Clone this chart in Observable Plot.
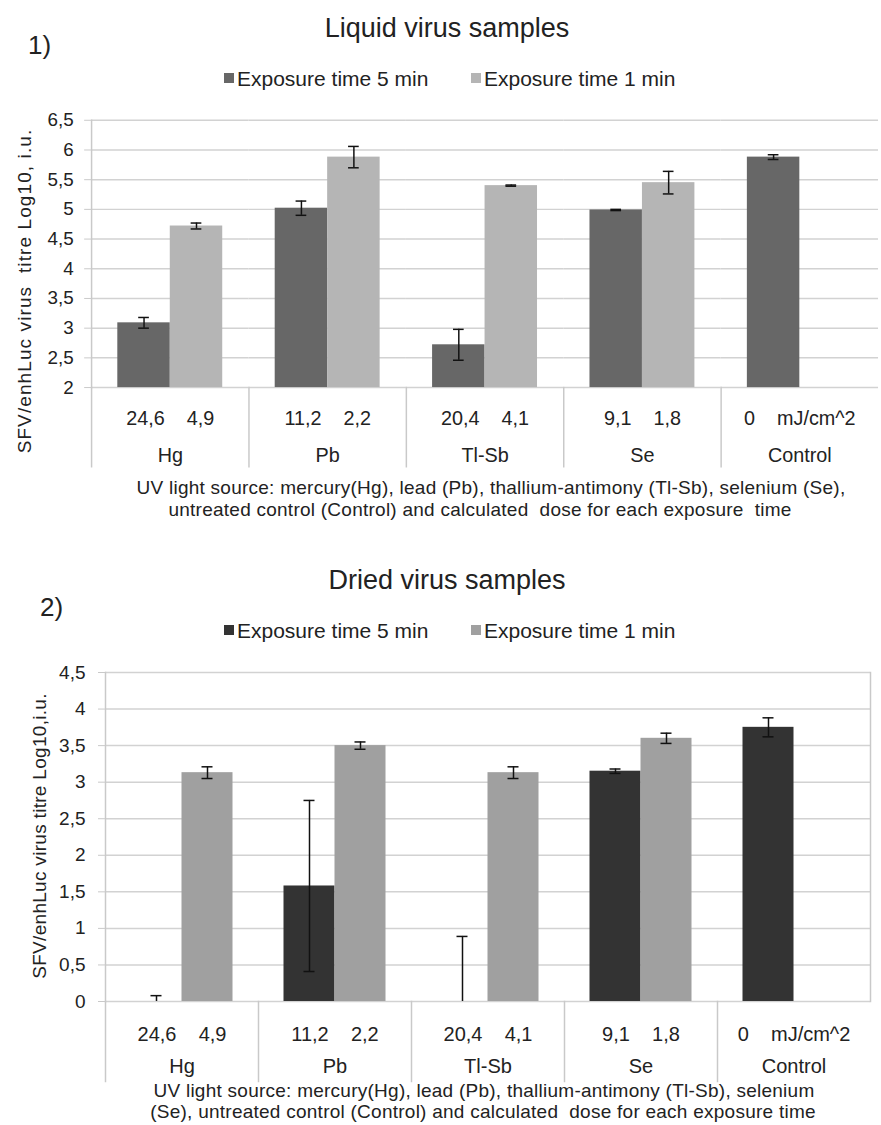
<!DOCTYPE html>
<html><head><meta charset="utf-8">
<script src="https://cdn.jsdelivr.net/npm/d3@7"></script>
<script src="https://cdn.jsdelivr.net/npm/@observablehq/plot@0.6"></script>
<style>
body{margin:0;background:#fff;}
#page{position:relative;width:881px;height:1125px;overflow:hidden;font-family:"Liberation Sans",Arial,sans-serif;color:#222;background:#fff;}
.t{position:absolute;white-space:pre;line-height:1;transform:translate(-50%,-50%);}
.l{position:absolute;white-space:pre;line-height:1;transform:translateY(-50%);}
.sq{position:absolute;width:10px;height:10px;transform:translateY(-50%);}
.rot{position:absolute;white-space:pre;line-height:1;transform:translate(-50%,-50%) rotate(-90deg);}
.chart{position:absolute;left:0;}
</style></head><body><div id="page"></div>
<script>
// ---- data ----
const categories = ["Hg", "Pb", "Tl-Sb", "Se", "Control"];
const dose5 = ["24,6", "11,2", "20,4", "9,1", "0"];
const dose1 = ["4,9", "2,2", "4,1", "1,8", "mJ/cm^2"];
const seriesNames = ["Exposure time 5 min", "Exposure time 1 min"];

const liquid5 = [3.09, 5.02, 2.72, 4.99, 5.88];
const liquid5Err = [0.09, 0.12, 0.26, 0.01, 0.04];
const liquid1 = [4.72, 5.88, 5.40, 5.45, null];
const liquid1Err = [0.05, 0.18, 0.01, 0.19, null];
const liquidTicks = [2, 2.5, 3, 3.5, 4, 4.5, 5, 5.5, 6, 6.5];

const dried5 = [0, 1.58, 0, 3.15, 3.75];
const dried5Err = [0.08, 1.17, 0.89, 0.03, 0.13];
const dried1 = [3.13, 3.50, 3.13, 3.60, null];
const dried1Err = [0.08, 0.05, 0.08, 0.07, null];
const driedTicks = [0, 0.5, 1, 1.5, 2, 2.5, 3, 3.5, 4, 4.5];

const liquidColors = ["#676767", "#b5b5b5"];
const driedColors = ["#333333", "#a0a0a0"];

const yTitle1 = "SFV/enhLuc virus  titre Log10, i.u.";
const yTitle2 = "SFV/enhLuc virus titre Log10,i.u.";
const caption1 = ["UV light source: mercury(Hg), lead (Pb), thallium-antimony (Tl-Sb), selenium (Se),",
                  "untreated control (Control) and calculated  dose for each exposure  time"];
const caption2 = ["UV light source: mercury(Hg), lead (Pb), thallium-antimony (Tl-Sb), selenium",
                  "(Se), untreated control (Control) and calculated  dose for each exposure time"];

const fmt = d => String(d).replace(".", ",");
const gap = "\u00a0\u00a0\u00a0\u00a0";

function chart(o) {
  const rows = [];
  categories.forEach((c, i) => {
    if (o.v5[i] != null) rows.push({cat: c, series: seriesNames[0], value: o.v5[i], err: o.e5[i]});
    if (o.v1[i] != null) rows.push({cat: c, series: seriesNames[1], value: o.v1[i], err: o.e1[i]});
  });
  const yMin = o.ticks[0], yMax = o.ticks[o.ticks.length - 1];
  const plotH = o.height - o.mt - o.mb;
  const bandW = (o.width - o.ml - o.mr) / categories.length / 3;
  const capInset = (bandW - 11) / 2;
  const hi = d => d.value + d.err;
  const lo = d => Math.max(yMin, d.value - d.err);
  const lineColor = "#c9c9c9";
  const marks = [
    Plot.gridY(o.ticks, {stroke: "#d2d2d2", strokeOpacity: 1, strokeWidth: 1.5}),
    Plot.barY(rows, {fx: "cat", x: "series", y1: () => yMin, y2: "value", fill: "series"}),
    Plot.ruleX(rows, {fx: "cat", x: "series", y1: lo, y2: hi, stroke: "#111", strokeWidth: 1.5}),
    Plot.tickY(rows, {fx: "cat", x: "series", y: hi, stroke: "#111", strokeWidth: 1.5, insetLeft: capInset, insetRight: capInset}),
    Plot.tickY(rows.filter(d => d.value - d.err >= yMin), {fx: "cat", x: "series", y: d => d.value - d.err, stroke: "#111", strokeWidth: 1.5, insetLeft: capInset, insetRight: capInset}),
    Plot.frame({anchor: "left", insetTop: plotH, insetBottom: -o.mb, stroke: lineColor, strokeWidth: 1.5}),
    Plot.frame({anchor: "left", fx: () => categories[0], stroke: lineColor, strokeWidth: 1.5}),
    Plot.axisY(o.ticks, {tickFormat: fmt, tickSize: 7, tickPadding: o.tickPadding, stroke: lineColor, fill: "#222", label: null, fontSize: 19}),
    Plot.text(categories, {fx: d => d, text: (d, i) => dose5[i] + gap + dose1[i], frameAnchor: "bottom", dy: o.doseDy, lineAnchor: "middle", fontSize: 20, fill: "#222"}),
    Plot.text(categories, {fx: d => d, text: d => d, frameAnchor: "bottom", dy: o.catDy, lineAnchor: "middle", fontSize: 20, fill: "#222"})
  ];
  if (o.rightBorder) marks.push(Plot.frame({anchor: "right", fx: () => categories[categories.length - 1], stroke: lineColor, strokeWidth: 1.5}));
  return Plot.plot({
    width: o.width, height: o.height,
    marginLeft: o.ml, marginRight: o.mr, marginTop: o.mt, marginBottom: o.mb,
    style: {fontFamily: '"Liberation Sans", Arial, sans-serif', fontSize: "19px", color: "#222", background: "transparent", overflow: "visible"},
    fx: {domain: categories, padding: 0, axis: null},
    x: {domain: seriesNames, paddingInner: 0, paddingOuter: 0.5, axis: null, round: false},
    y: {domain: [yMin, yMax]},
    color: {domain: seriesNames, range: o.colors},
    marks
  });
}

const page = document.getElementById("page");
function add(cls, text, x, y, style = {}) {
  const d = document.createElement("div");
  d.className = cls;
  if (text != null) d.textContent = text;
  d.style.left = x + "px";
  d.style.top = y + "px";
  Object.assign(d.style, style);
  page.appendChild(d);
  return d;
}

// ---- chart 1 ----
add("l", "1)", 28, 45, {fontSize: "26px"});
add("t", "Liquid virus samples", 447, 28, {fontSize: "27px"});
add("sq", null, 224, 78, {background: liquidColors[0]});
add("l", seriesNames[0], 237, 78, {fontSize: "21px"});
add("sq", null, 471, 78, {background: liquidColors[1]});
add("l", seriesNames[1], 484, 78, {fontSize: "21px"});
const c1 = chart({v5: liquid5, e5: liquid5Err, v1: liquid1, e1: liquid1Err, ticks: liquidTicks, colors: liquidColors,
  width: 890, height: 370, ml: 90, mr: 2, mt: 20, mb: 80, tickPadding: 11, doseDy: 31, catDy: 69, rightBorder: false});
c1.classList.add("chart"); c1.style.top = "100px";
page.appendChild(c1);
add("rot", yTitle1, 24, 291, {fontSize: "19px", letterSpacing: "1.1px"});
add("t", caption1[0], 491, 487, {fontSize: "19px", letterSpacing: "0.25px"});
add("t", caption1[1], 480, 509, {fontSize: "19px", letterSpacing: "0.25px"});

// ---- chart 2 ----
add("l", "2)", 40, 607, {fontSize: "26px"});
add("t", "Dried virus samples", 447, 580, {fontSize: "27px"});
add("sq", null, 224, 630, {background: driedColors[0]});
add("l", seriesNames[0], 237, 630, {fontSize: "21px"});
add("sq", null, 471, 630, {background: driedColors[1]});
add("l", seriesNames[1], 484, 630, {fontSize: "21px"});
const c2 = chart({v5: dried5, e5: dried5Err, v1: dried1, e1: dried1Err, ticks: driedTicks, colors: driedColors,
  width: 881, height: 429, ml: 105, mr: 11, mt: 20, mb: 80, tickPadding: 13, doseDy: 33, catDy: 65, rightBorder: true});
c2.classList.add("chart"); c2.style.top = "652px";
page.appendChild(c2);
add("rot", yTitle2, 39, 836, {fontSize: "19px", letterSpacing: "0.3px"});
add("t", caption2[0], 484, 1090, {fontSize: "19px", letterSpacing: "0.25px"});
add("t", caption2[1], 483, 1111, {fontSize: "19px", letterSpacing: "0.25px"});
</script>
</body></html>
